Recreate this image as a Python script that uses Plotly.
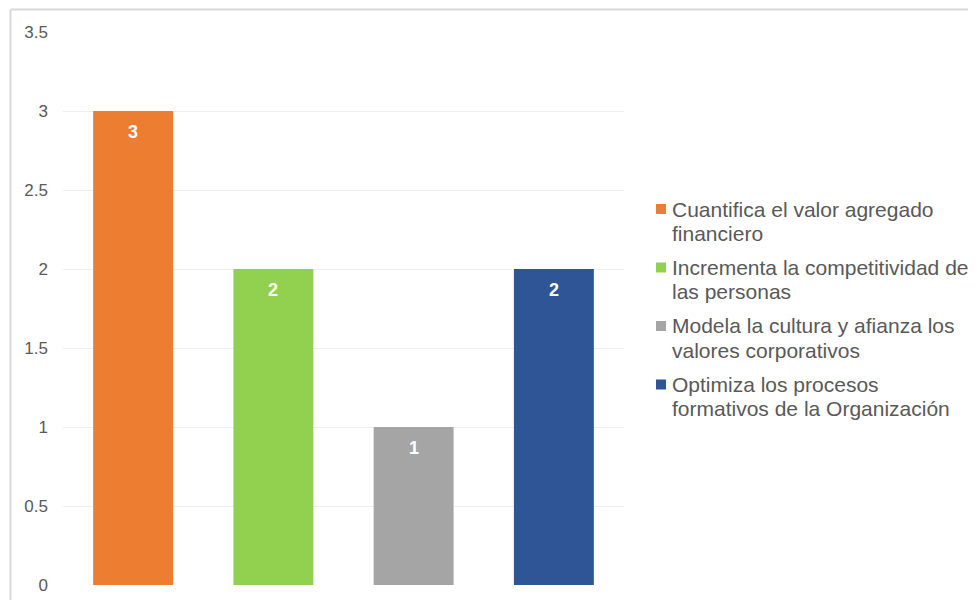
import plotly.graph_objects as go

categories = [
    "Cuantifica el valor agregado<br>financiero",
    "Incrementa la competitividad de<br>las personas",
    "Modela la cultura y afianza los<br>valores corporativos",
    "Optimiza los procesos<br>formativos de la Organización",
]
values = [3, 2, 1, 2]
colors = ["#ED7D31", "#92D050", "#A5A5A5", "#2F5597"]
y_ticks = [0, 0.5, 1, 1.5, 2, 2.5, 3, 3.5]
y_tick_labels = ["0", "0.5", "1", "1.5", "2", "2.5", "3", "3.5"]

FONT = "Liberation Sans, Arial"

# page body has an 8px margin, so the figure sits at (8, 8) in the window.
# target plot area in window pixels: x 63..624, y 585 (zero) .. 32 (3.5)
def px(x):
    return (x - 63) / 561

def py(y):
    return (585 - y) / 553

fig = go.Figure()
for i, (name, val, col) in enumerate(zip(categories, values, colors)):
    fig.add_trace(go.Bar(
        x=[i], y=[val], name=name.replace("<br>", " "),
        marker=dict(color=col, line=dict(width=0)),
        width=0.57, showlegend=False,
    ))
    fig.add_annotation(
        x=i, y=val, text=f"<b>{val}</b>", showarrow=False,
        yshift=-21, font=dict(color="white", size=18, family=FONT),
    )

# legend drawn by hand (Excel style: small square, tight text, wrapped lines)
for i, (name, col) in enumerate(zip(categories, colors)):
    top = 209 + i * 58.5
    fig.add_shape(type="rect", xref="paper", yref="paper",
                  x0=px(656), x1=px(666), y0=py(top + 5), y1=py(top - 5),
                  fillcolor=col, line=dict(width=0))
    for j, line in enumerate(name.split("<br>")):
        fig.add_annotation(
            xref="paper", yref="paper", x=px(670), y=py(top + 24 * j),
            xanchor="left", yanchor="middle", text=line, showarrow=False,
            font=dict(size=21, color="#595959", family=FONT),
        )

# chart border (only left and top edges are visible in the crop)
bx = px(10.5)
by = py(9.5)
fig.add_shape(type="line", xref="paper", yref="paper", x0=bx, x1=bx, y0=-0.1, y1=by,
              line=dict(color="#D9D9D9", width=2))
fig.add_shape(type="line", xref="paper", yref="paper", x0=bx, x1=2, y0=by, y1=by,
              line=dict(color="#D9D9D9", width=2))

fig.update_layout(
    width=976, height=600,
    margin=dict(l=55, r=360, t=24, b=23),
    paper_bgcolor="white", plot_bgcolor="white",
    barmode="overlay",
    showlegend=False,
    font=dict(family=FONT, color="#595959"),
    xaxis=dict(range=[-0.5, 3.5], showticklabels=False, showgrid=False,
               zeroline=False, showline=False, ticks="", automargin=False),
    yaxis=dict(range=[0, 3.5], tickvals=y_ticks, ticktext=y_tick_labels,
               showgrid=True, gridcolor="#EEEEEE", gridwidth=1,
               zeroline=False, showline=False, ticks="", automargin=False,
               tickfont=dict(size=17, color="#595959"), ticklabelstandoff=14),
)

fig.write_html("out.html")
